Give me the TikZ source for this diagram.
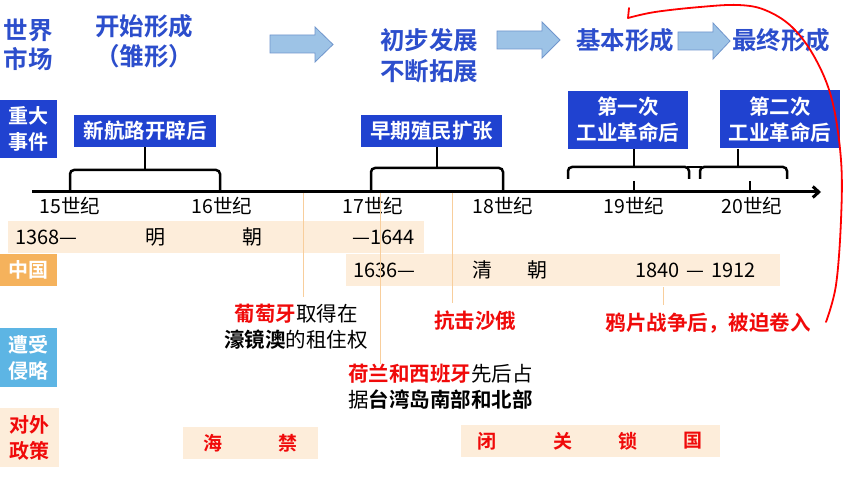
\documentclass[tikz,border=0pt]{standalone}
\usepackage{fontspec}
\setmainfont{Noto Sans CJK SC}[BoldFont={Noto Sans CJK SC Bold}]
\usetikzlibrary{arrows.meta}
\definecolor{titleblue}{RGB}{44,78,204}
\definecolor{boxblue}{RGB}{32,66,208}
\definecolor{arrowfill}{RGB}{157,195,230}
\definecolor{arrowdraw}{RGB}{112,150,205}
\definecolor{orangebox}{RGB}{245,178,92}
\definecolor{skyblue}{RGB}{93,181,228}
\definecolor{peach}{RGB}{253,237,218}
\definecolor{lineorange}{RGB}{248,206,156}
\definecolor{hred}{RGB}{240,10,10}
\begin{document}
\begin{tikzpicture}[x=1pt,y=-1pt,
  titletxt/.style={text=titleblue,font=\fontsize{24.5}{29}\selectfont\bfseries,align=center,inner sep=0pt},
  tarrow/.style={fill=arrowfill,draw=arrowdraw,line width=0.8pt},
  evbox/.style={fill=boxblue,text=white,font=\fontsize{20.5}{26}\selectfont\bfseries,align=center,inner sep=0pt},
  rowlab/.style={text=white,font=\fontsize{20}{26}\selectfont\bfseries,align=center,inner sep=0pt,minimum width=57pt},
  axisline/.style={line width=3pt},
  bracel/.style={line width=2.5pt,rounded corners=4pt},
  century/.style={font=\fontsize{19.5}{20}\selectfont,inner sep=0pt},
  bar/.style={fill=peach,inner sep=0pt},
  bartxt/.style={font=\fontsize{20}{22}\selectfont,inner sep=0pt},
  thinl/.style={draw=lineorange,line width=0.9pt},
  invtxt/.style={font=\fontsize{20.5}{26}\selectfont,inner sep=0pt},
  redb/.style={text=hred,font=\fontsize{20.5}{26}\selectfont\bfseries,inner sep=0pt},
  poltxt/.style={text=hred,font=\fontsize{19}{22}\selectfont\bfseries,inner sep=0pt}
]
\useasboundingbox[fill=white] (0,0) rectangle (860,484);

% ---- title row ----
\node[titletxt] (sj) at (28,45) {世界\\市场};
\node[titletxt,font=\fontsize{24.5}{30}\selectfont\bfseries] (kssc) at (144,41) {开始形成\\（雏形）};
\node[titletxt,font=\fontsize{24.5}{31}\selectfont\bfseries] (cbfz) at (429,56) {初步发展\\不断拓展};
\node[titletxt] (jbxc) at (625,40) {基本形成};
\node[titletxt] (zzxc) at (781,40) {最终形成};
\draw[tarrow] (270,35) -- (315,35) -- (315,27) -- (333,44.5) -- (315,62) -- (315,53) -- (270,53) -- cycle;
\draw[tarrow] (497,31) -- (542,31) -- (542,22) -- (560,40) -- (542,58) -- (542,49) -- (497,49) -- cycle;
\draw[tarrow] (678,32) -- (713,32) -- (713,23) -- (730,41) -- (713,59) -- (713,50) -- (678,50) -- cycle;

% ---- row labels ----
\node[rowlab,fill=boxblue,minimum height=58pt] (r1) at (28.5,129) {重大\\事件};
\node[rowlab,fill=orangebox,minimum height=32pt] (r2) at (28.5,270) {中国};
\node[rowlab,fill=skyblue,minimum height=59pt] (r3) at (28.5,357.5) {遭受\\侵略};
\node[rowlab,fill=peach,text=hred,minimum width=59pt,minimum height=59pt] (r4) at (29.5,437.5) {对外\\政策};

% ---- event boxes ----
\node[evbox,minimum width=142pt,minimum height=32pt] (ev1) at (145,131) {新航路开辟后};
\node[evbox,minimum width=141pt,minimum height=32pt] (ev2) at (431.5,131) {早期殖民扩张};
\node[evbox,minimum width=120pt,minimum height=58pt] (ev3) at (628,120) {第一次\\工业革命后};
\node[evbox,minimum width=120pt,minimum height=58pt] (ev4) at (780,119.5) {第二次\\工业革命后};

% ---- axis ----
\coordinate (a0) at (32,192);
\coordinate (a1) at (821,192);
\draw[axisline,-{Straight Barb[length=6pt,width=11pt]}] (a0) -- (a1);

% braces
\draw[bracel] (70,192) -- (70,170) -- (220,170) -- (220,192);
\draw[bracel] (371,192) -- (371,168) -- (503,168) -- (503,192);
\draw[bracel] (568,179) -- (568,167) -- (689,167) -- (689,179);
\draw[bracel] (700,179) -- (700,167) -- (787,167) -- (787,179);
\draw[line width=2.5pt] (687,167) -- (702,167);
\coordinate (s1) at (145,170);
\coordinate (s2) at (437,168);
\coordinate (s3) at (634,167);
\coordinate (s4) at (738,167);
\draw[line width=2.5pt] (ev1.south -| s1) -- (s1);
\draw[line width=2.5pt] (ev2.south -| s2) -- (s2);
\draw[line width=2.5pt] (ev3.south -| s3) -- (s3);
\draw[line width=2.5pt] (ev4.south -| s4) -- (s4);
\draw[line width=2.5pt] (634,181) -- (634,192);
\draw[line width=2.5pt] (750,181) -- (750,192);

% century labels
\node[century] (c15) at (70,206) {15世纪};
\node[century] (c16) at (222,206) {16世纪};
\node[century] (c17) at (373,206) {17世纪};
\node[century] (c18) at (503,206) {18世纪};
\node[century] (c19) at (634,206) {19世纪};
\node[century] (c20) at (752,206) {20世纪};

% ---- dynasty bars ----
\node[bar,minimum width=416pt,minimum height=32pt] (ming) at (216,237) {};
\node[bar,minimum width=434pt,minimum height=32pt] (qing) at (563,270) {};
\node[bartxt,anchor=west] (m1) at (15,237) {1368—};
\node[bartxt] (m2) at (155,237) {明};
\node[bartxt] (m3) at (252,237) {朝};
\node[bartxt,anchor=east] (m4) at (415,237) {—1644};
\node[bartxt,anchor=west] (q1) at (353,270) {1636—};
\node[bartxt] (q2) at (482,270) {清};
\node[bartxt] (q3) at (537,270) {朝};
\node[bartxt,anchor=west] (q4) at (635,270) {1840\hspace{7pt}—\hspace{7pt}1912};

% ---- invasion texts ----
\node[invtxt,align=center] (inv1) at (296,327) {\textcolor{hred}{\bfseries 葡萄牙}取得在\\{\bfseries 濠镜澳}的租住权};
\node[redb] (inv2) at (475,321) {抗击沙俄};
\node[redb] (inv3) at (708,323) {鸦片战争后，被迫卷入};
\node[invtxt,align=left,anchor=west] (inv4) at (348,387) {\textcolor{hred}{\bfseries 荷兰和西班牙}先后占\\据{\bfseries 台湾岛南部和北部}};

% thin orange guide lines
\coordinate (g1) at (303,193);
\coordinate (g2) at (380,193);
\coordinate (g3) at (452,193);
\coordinate (g4) at (663,287);
\draw[thinl] (g1) -- (303,297);
\draw[thinl] (g2) -- (380,364);
\draw[thinl] (g3) -- (452,303);
\draw[thinl] (g4) -- (663,305);

% ---- policy bars ----
\node[bar,minimum width=135pt,minimum height=32pt] (hj) at (250.5,443) {};
\node[poltxt] at (213,443) {海};
\node[poltxt] at (288,443) {禁};
\node[bar,minimum width=259pt,minimum height=32pt] (bg) at (590.5,441) {};
\node[poltxt] at (487,441) {闭};
\node[poltxt] at (563,441) {关};
\node[poltxt] at (628,441) {锁};
\node[poltxt] at (693,441) {国};

% ---- red hand-drawn arrow ----
\draw[red,line width=1.8pt,line cap=round,line join=round]
  plot[smooth,tension=0.6] coordinates {(826,322) (836,285) (841,220) (841,160) (832,100) (815,58) (792,27) (765,10) (738,5) (700,7) (655,12) (628,18)};
\draw[red,line width=1.8pt,line cap=round] (628,18) -- (629,8);
\end{tikzpicture}
\end{document}
